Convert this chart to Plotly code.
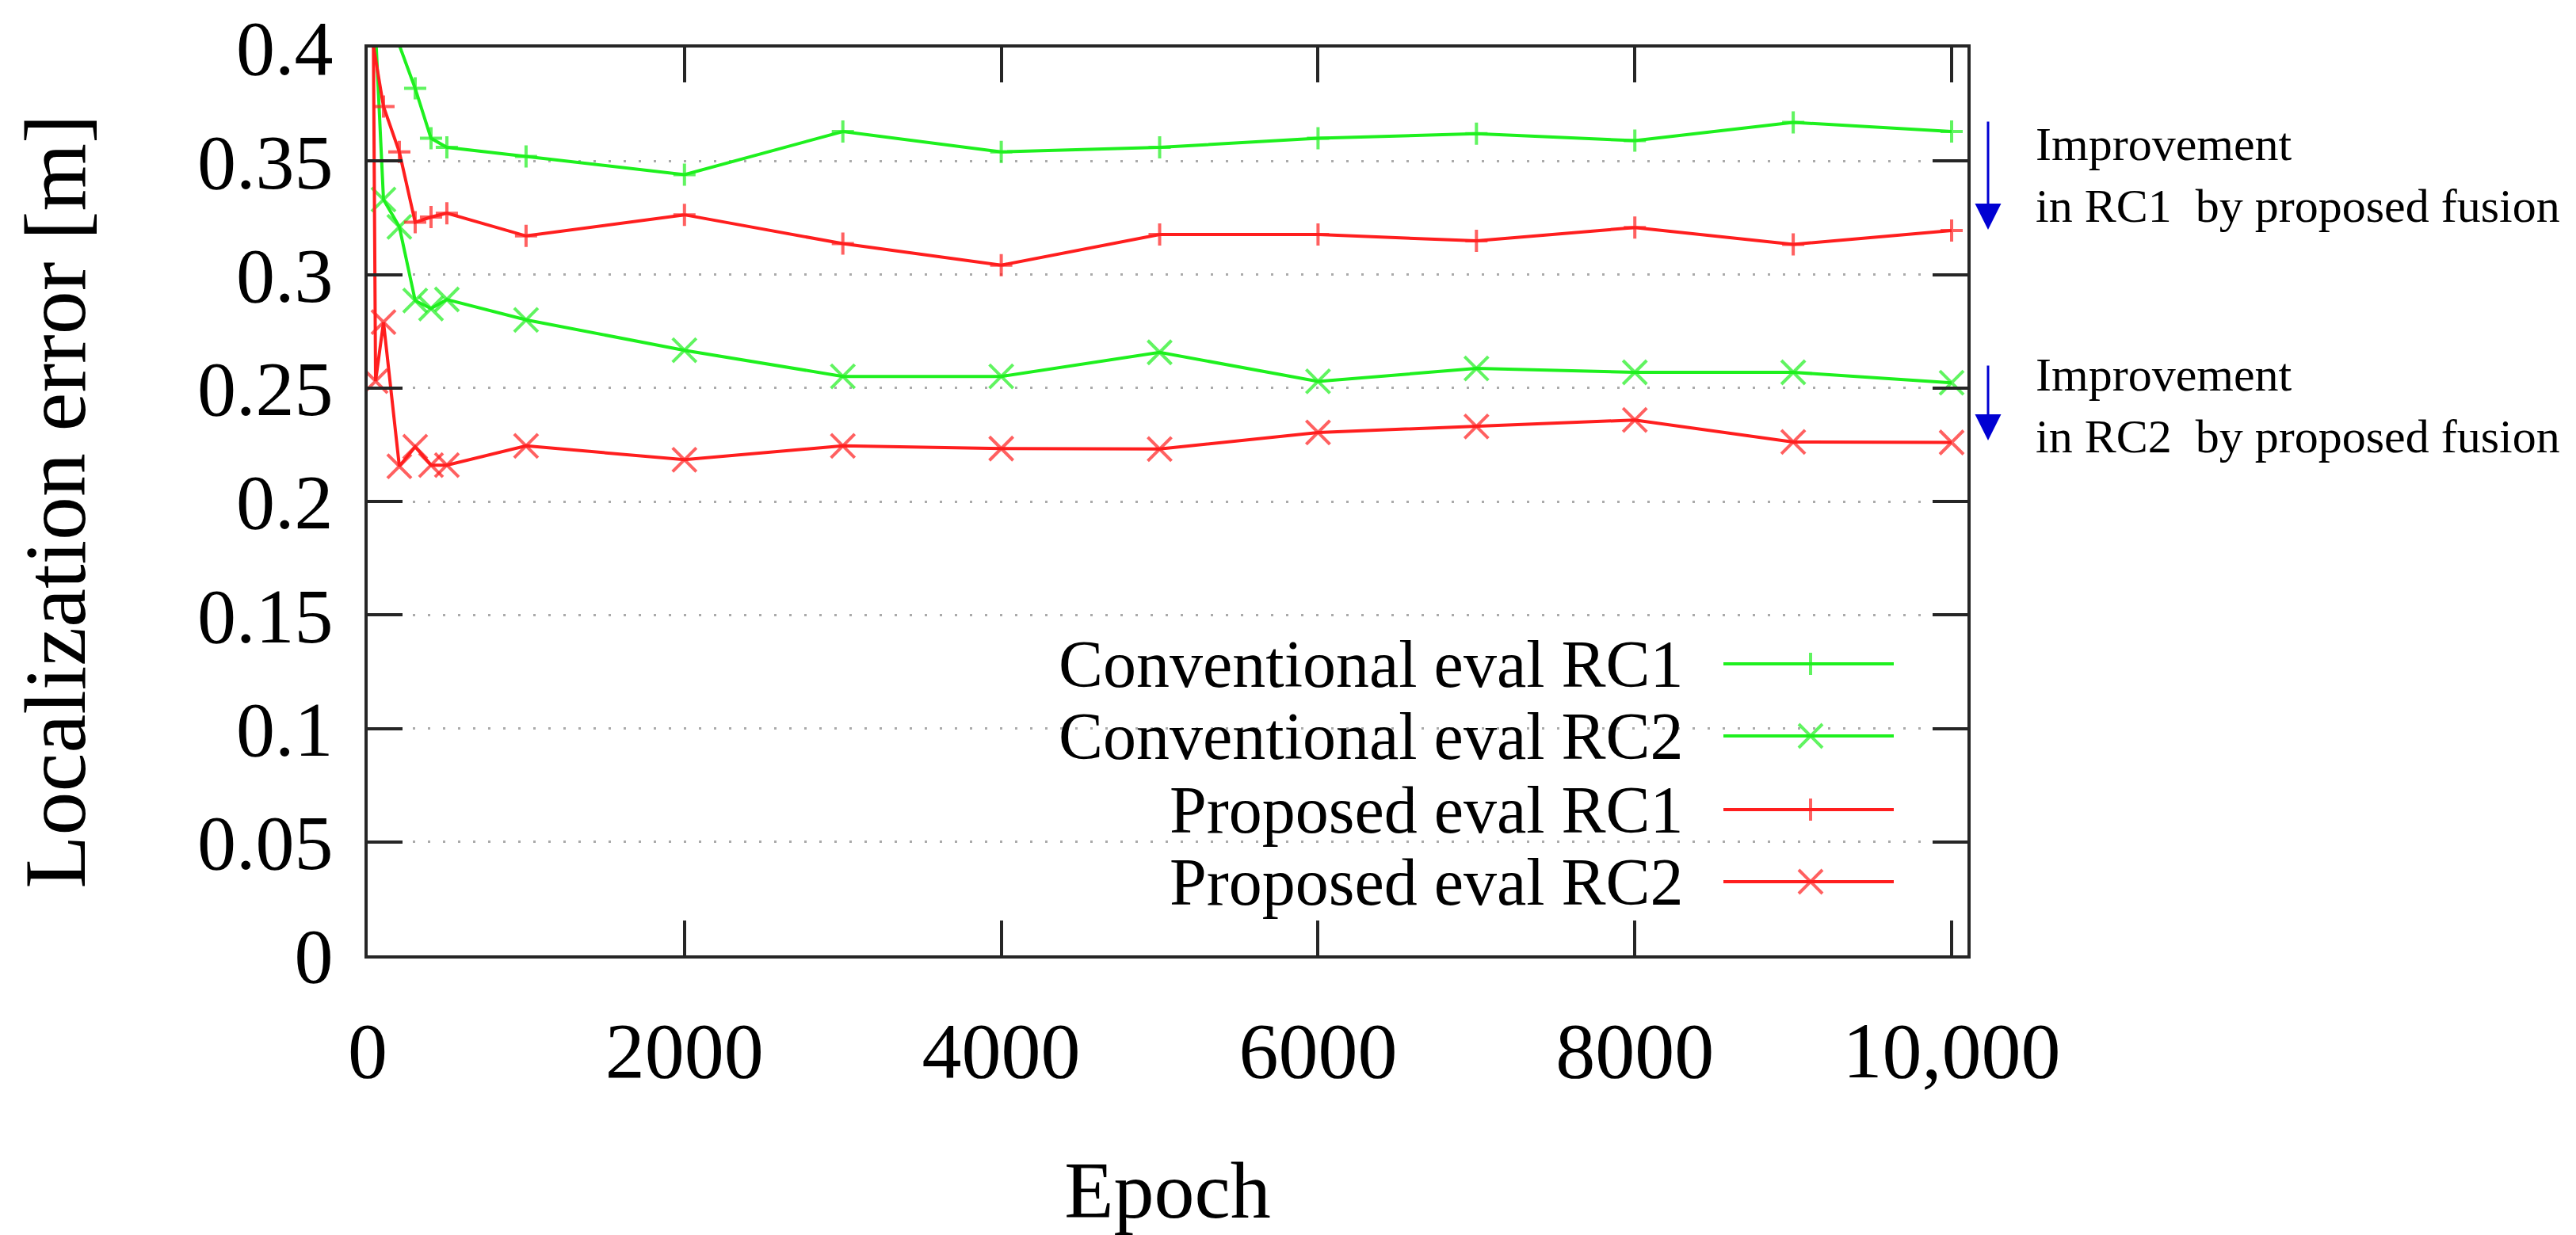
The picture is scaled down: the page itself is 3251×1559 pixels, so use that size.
import plotly.graph_objects as go

# ---------------- data ----------------
epochs = [0, 100, 200, 300, 400, 500, 1000, 2000, 3000, 4000, 5000, 6000, 7000, 8000, 9000, 10000]

conv_rc1 = [0.50, 0.45, 0.401, 0.382, 0.360, 0.356, 0.352, 0.344, 0.363, 0.354,
            0.356, 0.360, 0.362, 0.359, 0.367, 0.363]
conv_rc2 = [0.48, 0.333, 0.321, 0.2885, 0.285, 0.289, 0.280, 0.2666, 0.2551, 0.2551,
            0.2657, 0.2529, 0.2586, 0.2569, 0.2569, 0.2523]
prop_rc1 = [0.416, 0.374, 0.354, 0.323, 0.3253, 0.327, 0.317, 0.3263, 0.3136, 0.3041,
            0.3176, 0.3176, 0.3148, 0.3207, 0.3133, 0.3194]
epochs_prop_rc2 = [0, 50, 100, 200, 300, 400, 500, 1000, 2000, 3000, 4000, 5000, 6000, 7000, 8000, 9000, 10000]
prop_rc2 = [0.80, 0.253, 0.279, 0.2155, 0.2241, 0.216, 0.216, 0.2245, 0.2184, 0.2245, 0.2233,
            0.2231, 0.2304, 0.233, 0.2359, 0.2262, 0.226]

series_names = ["Conventional eval RC1", "Conventional eval RC2",
                "Proposed eval RC1", "Proposed eval RC2"]

x_tickvals = [0, 2000, 4000, 6000, 8000, 10000]
x_ticktext = ["0", "2000", "4000", "6000", "8000", "10,000"]
y_tickvals = [0, 0.05, 0.1, 0.15, 0.2, 0.25, 0.3, 0.35, 0.4]
y_ticktext = ["0", "0.05", "0.1", "0.15", "0.2", "0.25", "0.3", "0.35", "0.4"]

note1 = "Improvement<br>in RC1  by proposed fusion"
note2 = "Improvement<br>in RC2  by proposed fusion"

# ---------------- style ----------------
GREEN = "rgb(30,240,30)"
RED = "rgb(255,30,30)"
BLUE = "rgb(0,0,210)"
AXIS = "#262626"
FONT = "Liberation Serif, Times New Roman, serif"
YMAX = 0.4
XMAX = 10100

W, H = 3251, 1559
L, R, T, B = 464, 2483, 60, 1206   # plot area in pixels


def px_x(p):
    return (p - L) / (R - L)


def px_y(p):
    return (B - p) / (B - T)


def sizes(vals, s):
    return [s if v <= YMAX else 0 for v in vals]


styles = [
    (GREEN, "cross-thin", 20),
    (GREEN, "x-thin", 30),
    (RED, "cross-thin", 20),
    (RED, "x-thin", 30),
]
xs = [epochs, epochs, epochs, epochs_prop_rc2]
ys = [conv_rc1, conv_rc2, prop_rc1, prop_rc2]

fig = go.Figure()
for name, x, y, (col, sym, sz) in zip(series_names, xs, ys, styles):
    fig.add_trace(go.Scatter(
        x=x, y=y, name=name, mode="lines+markers",
        line=dict(color=col, width=4),
        marker=dict(symbol=sym, size=sizes(y, sz), color=col,
                    line=dict(color=col, width=4)),
        showlegend=False,
    ))

# ---------------- custom legend (text left, sample right) ----------------
leg_rows = [838, 929, 1022, 1113]
leg_text_right = 2127
leg_x0, leg_xm, leg_x1 = 2175, 2285, 2390

fig.add_shape(type="rect", xref="paper", yref="paper",
              x0=px_x(1240), x1=px_x(2440), y0=px_y(1165), y1=px_y(790),
              fillcolor="white", line=dict(width=0), layer="between")

annotations = []
for name, row, (col, sym, sz) in zip(series_names, leg_rows, styles):
    fig.add_trace(go.Scatter(
        x=[px_x(leg_x0), px_x(leg_xm), px_x(leg_x1)],
        y=[px_y(row)] * 3,
        xaxis="x2", yaxis="y2", mode="lines+markers",
        line=dict(color=col, width=4),
        marker=dict(symbol=sym, size=[0, sz, 0], color=col,
                    line=dict(color=col, width=4)),
        showlegend=False, cliponaxis=False, hoverinfo="skip",
    ))
    annotations.append(dict(
        xref="paper", yref="paper", x=px_x(leg_text_right), y=px_y(row),
        xanchor="right", yanchor="middle", text=name, showarrow=False,
        font=dict(family=FONT, size=84, color="black"),
    ))

# ---------------- improvement notes and arrows ----------------
for note, ymid, head, tail in [(note1, 221, 290, 152), (note2, 512, 556, 460)]:
    annotations.append(dict(
        xref="paper", yref="paper", x=px_x(2567), y=px_y(ymid),
        xanchor="left", yanchor="middle", align="left", text=note,
        showarrow=False, font=dict(family=FONT, size=60, color="black"),
    ))
    annotations.append(dict(
        xref="paper", yref="paper", x=px_x(2509), y=px_y(head),
        ax=0, ay=-(head - tail), text="", showarrow=True,
        arrowhead=2, arrowsize=2.2, arrowwidth=3, arrowcolor=BLUE,
    ))

fig.update_layout(
    width=W, height=H,
    margin=dict(l=L, r=W - R, t=T, b=H - B, pad=0),
    paper_bgcolor="white", plot_bgcolor="white",
    font=dict(family=FONT, color="black"),
    annotations=annotations,
    xaxis=dict(
        range=[0, XMAX], tickvals=x_tickvals, ticktext=x_ticktext,
        ticks="inside", ticklen=44, tickwidth=4, tickcolor=AXIS,
        showline=True, linewidth=4, linecolor=AXIS, mirror="ticks",
        showgrid=False, zeroline=False, automargin=False,
        ticklabeloverflow="allow",
        tickfont=dict(family=FONT, size=100, color="black"),
        ticklabelstandoff=30,
        title=dict(text="Epoch", font=dict(family=FONT, size=102, color="black"), standoff=160),
    ),
    yaxis=dict(
        range=[0, YMAX + 1e-6], tickvals=y_tickvals, ticktext=y_ticktext,
        ticks="inside", ticklen=44, tickwidth=4, tickcolor=AXIS,
        showline=True, linewidth=4, linecolor=AXIS, mirror="ticks",
        showgrid=True, gridcolor="#aaaaaa", gridwidth=3, griddash="3px,16px",
        zeroline=False, automargin=False,
        ticklabeloverflow="allow",
        tickfont=dict(family=FONT, size=98, color="black"),
        ticklabelstandoff=20,
        title=dict(text="Localization error [m]", font=dict(family=FONT, size=110, color="black"), standoff=105),
    ),
    xaxis2=dict(overlaying="x", range=[0, 1], visible=False, fixedrange=True),
    yaxis2=dict(overlaying="y", range=[0, 1], visible=False, fixedrange=True),
)

fig.write_html("out.html", config={"displayModeBar": False},
               post_script="document.body.style.margin='0';document.body.style.overflow='hidden';")
